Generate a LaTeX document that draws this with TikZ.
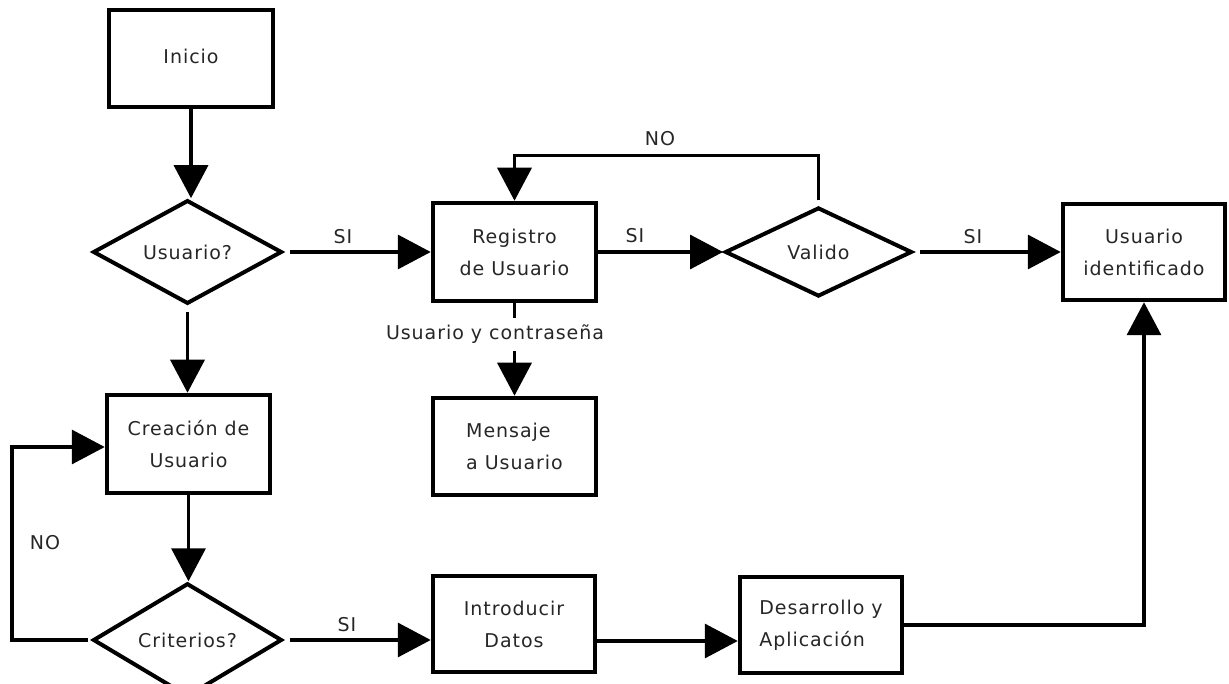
\documentclass[tikz,border=0pt]{standalone}
\usepackage{fontspec}
\setmainfont{DejaVu Sans}[LetterSpace=5]
\usetikzlibrary{arrows.meta,shapes.geometric,calc}
\begin{document}
\begin{tikzpicture}[x=1pt,y=-1pt,
  font=\fontsize{19pt}{32pt}\selectfont,
  flowbox/.style={draw,line width=4.5pt,rectangle,inner sep=0pt,align=center,text=black!85},
  decision/.style={draw,line width=4pt,diamond,inner sep=0pt,minimum width=189pt,minimum height=91pt,text=black!85},
  arr/.style={line width=3.5pt,-{Triangle[length=33pt,width=34pt]}},
  conn/.style={line width=3.5pt},
  lbl/.style={inner sep=0pt,text=black!85}]
\useasboundingbox (0,0) rectangle (1229,684);

% process boxes and decisions
\node[flowbox,minimum width=164pt,minimum height=97pt] (inicio) at (191,58.5) {\raisebox{5pt}{Inicio}};
\node[decision] (usu) at (187.5,252) {Usuario?};
\node[flowbox,minimum width=163pt,minimum height=98pt] (reg) at (514.5,252) {Registro\\de Usuario};
\node[decision,minimum width=187pt,minimum height=89pt] (val) at (818.5,252) {Valido};
\node[flowbox,minimum width=162pt,minimum height=96pt] (uid) at (1144,252) {Usuario\\identificado};
\node[flowbox,minimum width=163pt,minimum height=97pt,align=left] (msg) at (514.5,446.5) {Mensaje\\a Usuario};
\node[flowbox,minimum width=163pt,minimum height=98pt] (crea) at (188.5,444) {Creación de\\Usuario};
\node[decision,minimum height=92pt] (crit) at (187.5,640) {Criterios?};
\node[flowbox,minimum width=162pt,minimum height=96pt] (intro) at (514,624) {Introducir\\Datos};
\node[flowbox,minimum width=162pt,minimum height=96pt,align=left] (desa) at (821,625) {Desarrollo y\\Aplicación};

% connector labels
\node[lbl] (si1) at (343,237) {SI};
\node[lbl] (si2) at (635,236) {SI};
\node[lbl] (si3) at (973,237) {SI};
\node[lbl] (no1) at (660,139) {NO};
\node[lbl] (no2) at (45,543) {NO};
\node[lbl] (si4) at (347,625) {SI};
\node[lbl,minimum height=33pt] (cred) at (495,334.5) {Usuario y contraseña};

% connectors
\draw[arr] (inicio.south) -- (inicio.south |- usu.north);
\draw[arr] ($(usu.east)+(6,0)$) -- (reg.west);
\draw[arr] (reg.east) -- (val.west);
\draw[arr] ($(val.east)+(6,0)$) -- (uid.west);
\draw[arr] ($(val.north)+(0,-5)$) |- ($(reg.north)+(0,-45)$) -- (reg.north);
\draw[conn] (reg.south) -- (reg.south |- cred.north);
\draw[arr] (reg.south |- cred.south) -- (msg.north);
\draw[arr] ($(usu.south)+(0,6)$) -- (usu.south |- crea.north);
\draw[arr] (crea.south) -- (crea.south |- crit.north);
\draw[arr] ($(crit.west)+(-3,0)$) -- ++(-76,0) |- ($(crea.west)+(0,3)$);
\draw[arr] ($(crit.east)+(6,0)$) -- (intro.west |- crit.east);
\draw[arr] ($(intro.east)+(0,17)$) -- ($(desa.west)+(0,16)$);
\draw[arr] (desa.east) -| (uid.south);
\end{tikzpicture}
\end{document}
